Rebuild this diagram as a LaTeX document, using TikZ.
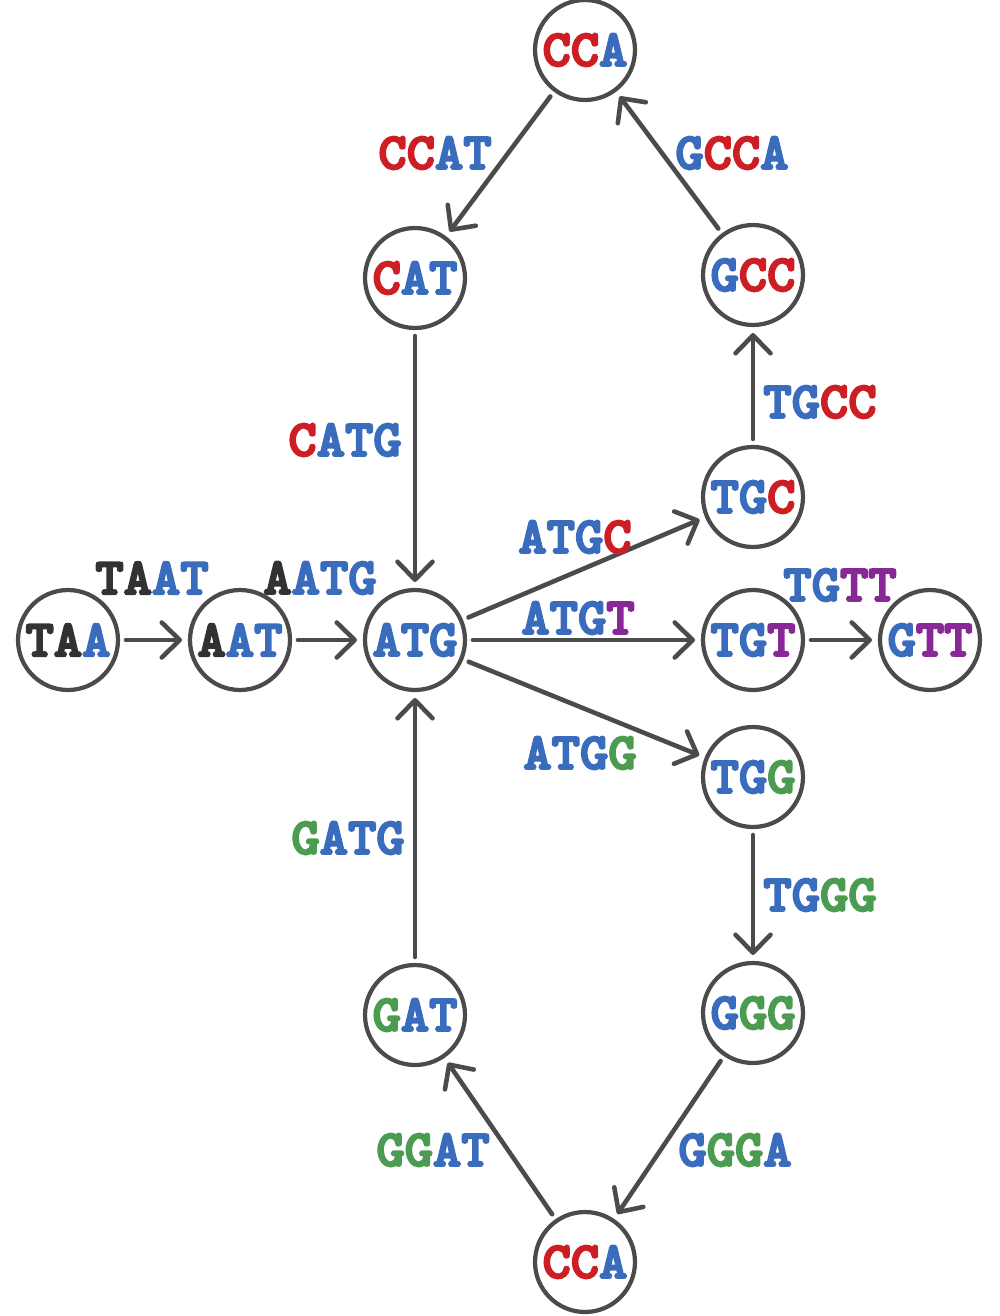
\documentclass[tikz,border=0pt]{standalone}
\usepackage{fontspec}
\usepackage{xcolor}
\definecolor{dnablue}{RGB}{58,108,190}
\definecolor{dnared}{RGB}{205,30,35}
\definecolor{dnagreen}{RGB}{75,155,80}
\definecolor{dnapurple}{RGB}{135,40,150}
\definecolor{dnadark}{RGB}{50,50,50}
\definecolor{edgegray}{RGB}{75,75,75}
\newfontfamily\dnafont{lmmonolt10-bold.otf}[FakeBold=4, FakeStretch=1.04]
\usetikzlibrary{arrows.meta}
\newcommand{\bl}[1]{\textcolor{dnablue}{#1}}
\newcommand{\rd}[1]{\textcolor{dnared}{#1}}
\newcommand{\gn}[1]{\textcolor{dnagreen}{#1}}
\newcommand{\pu}[1]{\textcolor{dnapurple}{#1}}
\newcommand{\dk}[1]{\textcolor{dnadark}{#1}}

\begin{document}
\begin{tikzpicture}[
    x=0.02cm, y=-0.02cm,
    kmer/.style={circle, draw=edgegray, line width=2.4pt, minimum size=2cm,
                 inner sep=0pt, outer sep=0.16cm,
                 font=\dnafont\fontsize{29.5}{30}\selectfont},
    edge/.style={-{Straight Barb[length=3.6mm, width=7mm, line cap=round, line join=round]},
                 draw=edgegray, line width=2.6pt, line cap=round},
    elabel/.style={font=\dnafont\fontsize{29.5}{30}\selectfont, inner sep=0pt},
  ]
    \useasboundingbox (0,0) rectangle (1000,1316);

    % --- k-mer nodes ---
    \node[kmer] (taa)    at (68, 640)   {\dk{TA}\bl{A}};
    \node[kmer] (aat)    at (240, 640)  {\dk{A}\bl{AT}};
    \node[kmer] (atg)    at (415, 640)  {\bl{ATG}};
    \node[kmer] (cat)    at (415, 278)  {\rd{C}\bl{AT}};
    \node[kmer] (ccatop) at (585, 50)   {\rd{CC}\bl{A}};
    \node[kmer] (gcc)    at (753, 275)  {\bl{G}\rd{CC}};
    \node[kmer] (tgc)    at (753, 497)  {\bl{TG}\rd{C}};
    \node[kmer] (tgt)    at (753, 640)  {\bl{TG}\pu{T}};
    \node[kmer] (gtt)    at (930, 640)  {\bl{G}\pu{TT}};
    \node[kmer] (tgg)    at (753, 777)  {\bl{TG}\gn{G}};
    \node[kmer] (ggg)    at (753, 1013) {\bl{G}\gn{GG}};
    \node[kmer] (gat)    at (415, 1015) {\gn{G}\bl{AT}};
    \node[kmer] (ccabot) at (585, 1262) {\rd{CC}\bl{A}};

    % --- Edges ---
    \foreach \a/\b in {taa/aat, aat/atg, atg/tgt, tgt/gtt, cat/atg, ccatop/cat,
                       gcc/ccatop, tgc/gcc, atg/tgc, atg/tgg, tgg/ggg,
                       ggg/ccabot, ccabot/gat, gat/atg}
      \draw[edge] (\a) -- (\b);

    % --- Edge labels (4-mers) ---
    \node[elabel] (taat) at (152, 578)  {\dk{TA}\bl{AT}};
    \node[elabel] (aatg) at (320, 578)  {\dk{A}\bl{ATG}};
    \node[elabel] (ccat) at (435, 153)  {\rd{CC}\bl{AT}};
    \node[elabel] (gcca) at (732, 153)  {\bl{G}\rd{CC}\bl{A}};
    \node[elabel] (catg) at (345, 440)  {\rd{C}\bl{ATG}};
    \node[elabel] (tgcc) at (820, 402)  {\bl{TG}\rd{CC}};
    \node[elabel] (atgc) at (575, 537)  {\bl{ATG}\rd{C}};
    \node[elabel] (atgt) at (578, 618)  {\bl{ATG}\pu{T}};
    \node[elabel] (tgtt) at (840, 585)  {\bl{TG}\pu{TT}};
    \node[elabel] (atgg) at (580, 753)  {\bl{ATG}\gn{G}};
    \node[elabel] (gatg) at (348, 838)  {\gn{G}\bl{ATG}};
    \node[elabel] (tggg) at (820, 895)  {\bl{TG}\gn{GG}};
    \node[elabel] (ggga) at (735, 1150) {\bl{G}\gn{GG}\bl{A}};
    \node[elabel] (ggat) at (433, 1150) {\gn{GG}\bl{AT}};
  \end{tikzpicture}
\end{document}
